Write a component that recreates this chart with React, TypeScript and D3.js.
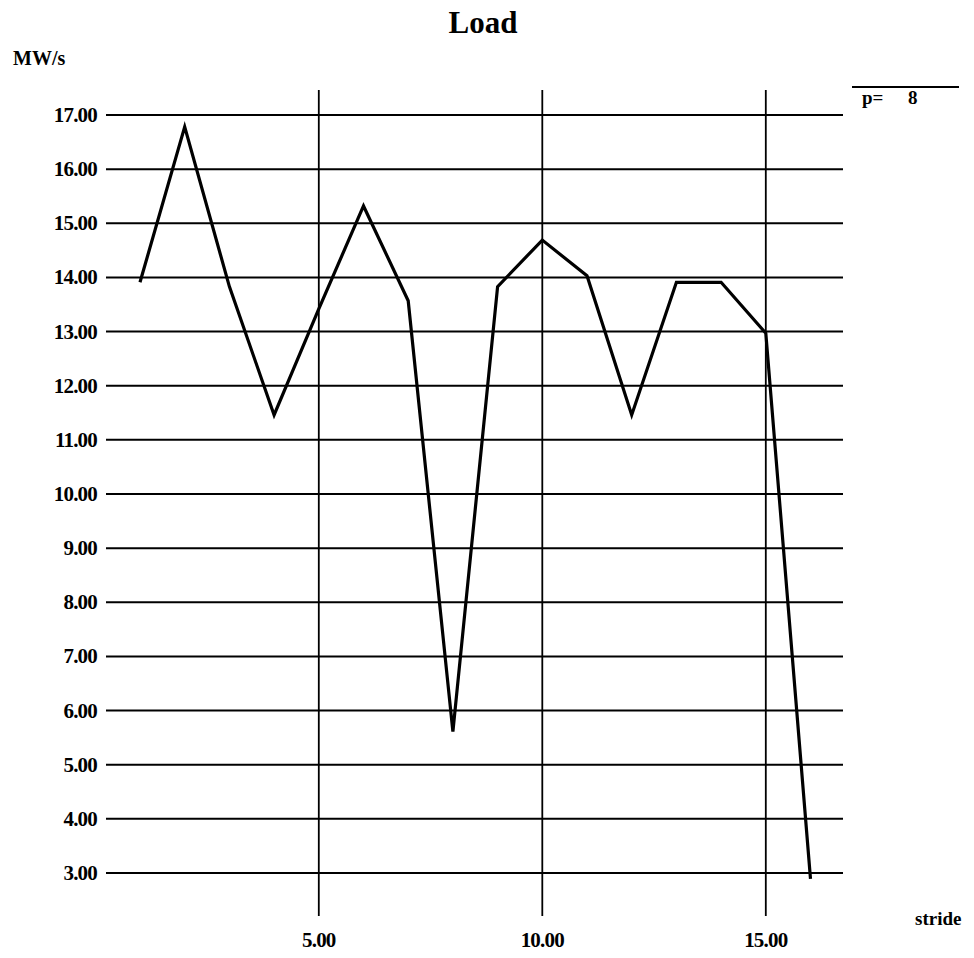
import React from "react";
import * as d3 from "d3";

// Load per stride, p = 8
const strides = [1, 2, 3, 4, 5, 6, 7, 8, 9, 10, 11, 12, 13, 14, 15, 16];
const load = [13.91, 16.78, 13.83, 11.46, 13.42, 15.32, 13.57, 5.61, 13.83, 14.69, 14.03, 11.46, 13.91, 13.91, 12.97, 2.89];
const yTicks = [3, 4, 5, 6, 7, 8, 9, 10, 11, 12, 13, 14, 15, 16, 17];
const xTicks = [5, 10, 15];
const legendLabel = "p=";
const legendValue = "8";

const W = 974;
const H = 958;
const FONT = "'Liberation Serif', 'Times New Roman', serif";

export default function App() {
  const x = d3.scaleLinear().domain([1, 16]).range([140, 810.5]);
  const y = d3.scaleLinear().domain([3, 17]).range([873, 115]);
  const gridLeft = 106;
  const gridRight = 843;
  const vTop = 90;
  const vBottom = 916;

  const line = d3
    .line<number>()
    .x((_, i) => x(strides[i]))
    .y((d) => y(d));

  return (
    <svg
      width={W}
      height={H}
      style={{ position: "absolute", left: 0, top: 0, background: "#fff" }}
      fontFamily={FONT}
    >
      <rect x={0} y={0} width={W} height={H} fill="#fff" />
      <text x={483} y={33} textAnchor="middle" fontSize={31} fontWeight="bold">
        Load
      </text>
      <text x={13} y={65} fontSize={20} fontWeight="bold">
        MW/s
      </text>

      {/* horizontal grid with value labels */}
      {yTicks.map((t) => (
        <g key={`y${t}`}>
          <line x1={gridLeft} x2={gridRight} y1={y(t)} y2={y(t)} stroke="#000" strokeWidth={2} />
          <text
            x={97}
            y={y(t) + 7}
            textAnchor="end"
            fontSize={21}
            fontWeight="bold"
            letterSpacing={-0.8}
          >
            {t.toFixed(2)}
          </text>
        </g>
      ))}

      {/* vertical grid with stride labels */}
      {xTicks.map((t) => (
        <g key={`x${t}`}>
          <line x1={x(t)} x2={x(t)} y1={vTop} y2={vBottom} stroke="#000" strokeWidth={1.8} />
          <text
            x={x(t)}
            y={947}
            textAnchor="middle"
            fontSize={21}
            fontWeight="bold"
            letterSpacing={-0.8}
          >
            {t.toFixed(2)}
          </text>
        </g>
      ))}

      <text x={915} y={925} fontSize={19} fontWeight="bold">
        stride
      </text>

      {/* legend */}
      <line x1={852} x2={959} y1={87} y2={87} stroke="#000" strokeWidth={2.2} />
      <text x={862} y={104} fontSize={19} fontWeight="bold">
        {legendLabel}
      </text>
      <text x={908} y={104} fontSize={19} fontWeight="bold">
        {legendValue}
      </text>

      <path
        d={line(load) ?? ""}
        fill="none"
        stroke="#000"
        strokeWidth={3.2}
        strokeLinejoin="miter"
      />
    </svg>
  );
}
